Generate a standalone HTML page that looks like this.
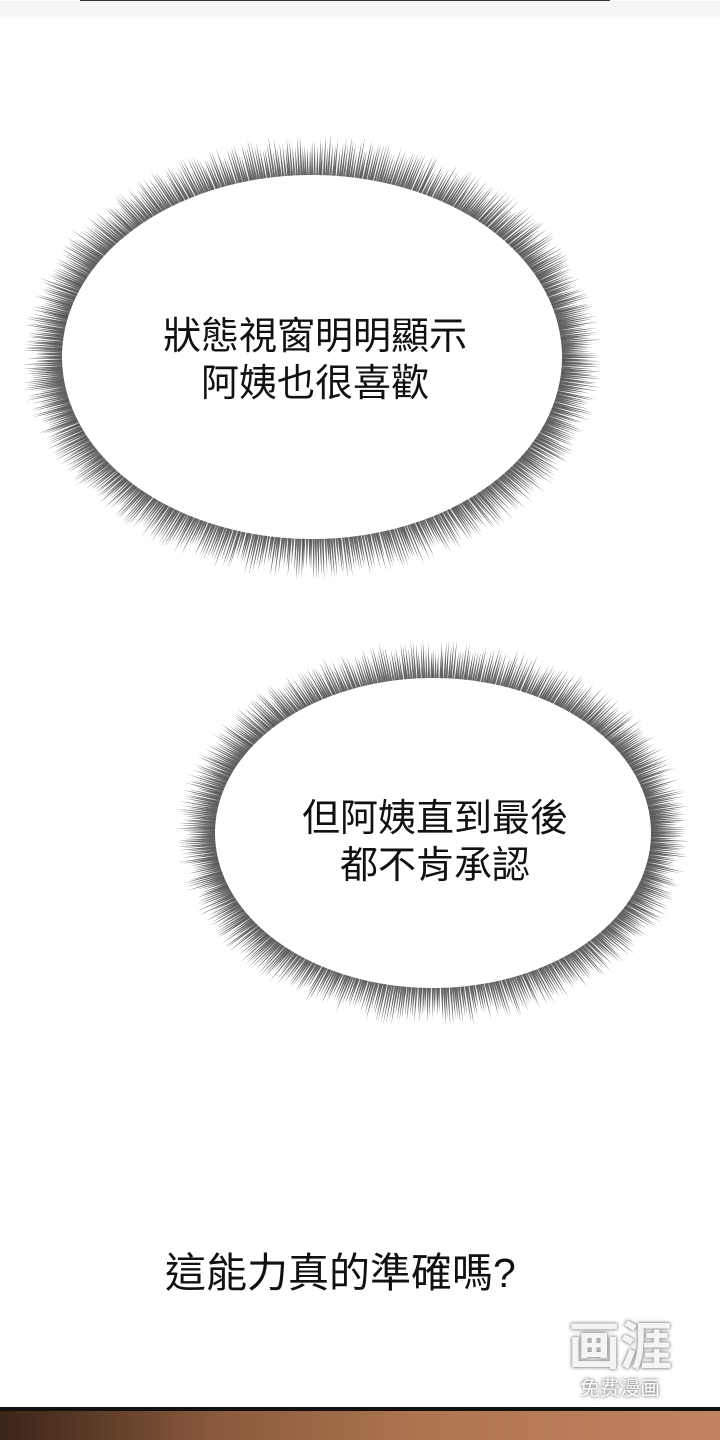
<!DOCTYPE html>
<html><head><meta charset="utf-8"><style>
body{margin:0;width:720px;height:1440px;background:#fff;position:relative;overflow:hidden;font-family:"Liberation Sans","Noto Sans CJK TC",sans-serif;}
.t{position:absolute;font-size:38px;color:#111;text-align:center;line-height:47px;white-space:nowrap}
#topline{position:absolute;left:80px;top:0;width:530px;height:1px;background:#333}
#topshade{position:absolute;left:0;top:1px;width:720px;height:18px;background:linear-gradient(#f4f4f4,#fafafa)}
#bline{position:absolute;left:0;top:1407px;width:720px;height:4px;background:#111}
#band{position:absolute;left:0;top:1411px;width:720px;height:29px;background:linear-gradient(90deg,#3a2418,#8a5a3c 30%,#b07650 60%,#c08460)}
#wm{position:absolute;left:568px;top:1318px;color:#fff;text-shadow:0 0 4px #888,0 0 2px #888;text-align:center}
</style></head><body>
<div id="topshade"></div><div id="topline"></div>
<svg id="s" width="720" height="1440" style="position:absolute;left:0;top:0"></svg>
<div class="t" style="left:155px;top:314px;width:320px">狀態視窗明明顯示<br>阿姨也很喜歡</div>
<div class="t" style="left:295px;top:796px;width:280px">但阿姨直到最後<br>都不肯承認</div>
<div class="t" style="left:165px;top:1250px;width:380px;text-align:left;font-size:41px">這能力真的準確嗎?</div>
<div id="wm"><div style="font-size:52px;font-weight:bold;line-height:60px;color:#f4f4f4">画涯</div><div style="font-size:20px;line-height:22px">免费漫画</div></div>
<div id="bline"></div><div id="band"></div>
<script>
var s=document.getElementById('s'),h='';
function bub(cx,cy,rx,ry,ex,ey,n){
 var seed=cx*7+cy;function r(){seed=(seed*9301+49297)%233280;return seed/233280;}
 for(var i=0;i<n;i++){var a=i/n*Math.PI*2+r()*0.004;var c=Math.cos(a),sn=Math.sin(a);
  var k=0.6+0.4*r();
  var x1=cx+rx*c,y1=cy+ry*sn,x2=cx+(rx+ex*k)*c,y2=cy+(ry+ey*k)*sn;
  var px=-sn*1.1,py=c*1.1;
  h+='<polygon points="'+(x1+px).toFixed(1)+','+(y1+py).toFixed(1)+' '+(x1-px).toFixed(1)+','+(y1-py).toFixed(1)+' '+x2.toFixed(1)+','+y2.toFixed(1)+'" fill="#444" fill-opacity="0.8"/>';}
}
bub(312,357,250,182,42,42,700);
bub(433,833,218,155,40,40,620);
s.innerHTML=h;
</script>
</body></html>
